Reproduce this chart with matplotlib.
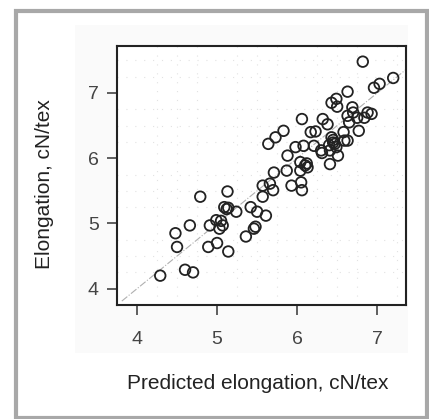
import numpy as np
import matplotlib
matplotlib.use('Agg')
from matplotlib import pyplot as plt
from matplotlib.patches import Rectangle

predicted = [6.82, 7.20, 7.03, 6.96, 6.63, 6.49, 6.43, 6.50, 6.69, 6.70,
             6.88, 6.93, 6.63, 6.75, 6.06, 6.84, 6.65, 6.32, 6.38, 6.77,
             6.58, 6.23, 6.17, 5.83, 5.73, 5.64, 6.43, 6.45, 6.59, 6.63,
             6.08, 6.21, 6.30, 6.31, 6.49, 6.41, 5.98, 5.88, 6.51, 6.41,
             6.04, 6.10, 6.13, 5.87, 5.71, 6.04, 5.93, 6.05, 6.06, 5.57,
             5.66, 5.70, 5.57, 5.42, 5.50, 5.61, 5.24, 5.14, 5.09, 5.13,
             4.79, 5.48, 5.46, 5.36, 5.07, 5.03, 4.91, 4.66, 5.00, 4.89,
             5.14, 4.48, 4.50, 4.60, 4.70, 4.29, 4.99, 5.05, 6.45, 6.47,
             6.40, 6.12, 5.12]
measured = [7.48, 7.23, 7.14, 7.08, 7.02, 6.91, 6.85, 6.79, 6.78, 6.70,
            6.70, 6.68, 6.65, 6.62, 6.60, 6.62, 6.55, 6.60, 6.52, 6.42,
            6.40, 6.41, 6.40, 6.42, 6.32, 6.22, 6.32, 6.24, 6.27, 6.27,
            6.19, 6.19, 6.12, 6.08, 6.17, 6.12, 6.17, 6.04, 6.04, 5.91,
            5.94, 5.89, 5.86, 5.81, 5.78, 5.81, 5.58, 5.63, 5.51, 5.58,
            5.61, 5.51, 5.41, 5.25, 5.18, 5.12, 5.18, 5.24, 5.25, 5.49,
            5.41, 4.95, 4.92, 4.80, 4.97, 4.92, 4.97, 4.97, 4.70, 4.64,
            4.57, 4.85, 4.64, 4.29, 4.25, 4.20, 5.05, 5.04, 6.28, 6.22,
            6.20, 5.92, 5.22]
ticks = [4, 5, 6, 7]

fig = plt.figure(figsize=(4.29, 4.19), dpi=100)
plt.rcParams['font.family'] = ['Liberation Sans', 'DejaVu Sans']

# outer frame and light panel
fig.patches.append(Rectangle((16/429, 1/419), 411/429, 407/419, transform=fig.transFigure,
                             fill=False, edgecolor='#a8a8a8', linewidth=3, zorder=0))
fig.patches.append(Rectangle((75/429, 66/419), 333/429, 328/419, transform=fig.transFigure,
                             facecolor='#fafafa', edgecolor='none', zorder=0))

ax = fig.add_axes([117/429, 114/419, 289/429, 259/419])
ax.set_zorder(2)
ax.set_facecolor('white')
ax.set_xlim(3.81, 7.36)
ax.set_ylim(3.78, 7.72)

ax.set_xticks(np.arange(3.75, 7.5, 0.25), minor=True)
ax.set_yticks(np.arange(3.75, 7.75, 0.25), minor=True)
ax.grid(which='minor', color='#e2e2e2', linestyle=(0, (1, 7)), linewidth=0.8)
ax.tick_params(which='minor', length=0)

ax.plot([3.81, 7.36], [3.81, 7.36], color='#b0b0b0', linestyle='-.', linewidth=0.8, zorder=1)
ax.scatter(predicted, measured, s=58, facecolors='none', edgecolors='#222222',
           linewidths=1.3, zorder=3)

ax.set_xticks(ticks)
ax.set_yticks(ticks)
ax.tick_params(which='major', direction='out', length=7, width=1.2, colors='#444444',
               labelsize=14)
ax.tick_params(axis='x', which='major', pad=12)
ax.tick_params(axis='y', which='major', pad=6)
for s in ax.spines.values():
    s.set_linewidth(1.5)
    s.set_color('#222222')

fig.text(258/429, 1 - 383/419, 'Predicted elongation, cN/tex', ha='center', va='center',
         fontsize=15, color='#222222')
fig.text(45/429, 1 - 184/419, 'Elongation, cN/tex', ha='center', va='center',
         rotation=90, fontsize=15, color='#222222')

fig.savefig('out.png', dpi=100)
